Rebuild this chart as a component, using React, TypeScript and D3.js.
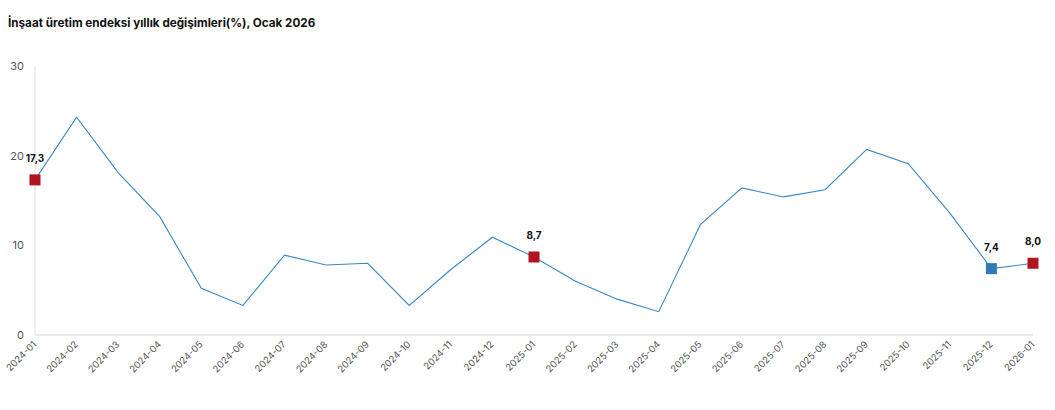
import React from "react";
import * as d3 from "d3";

const months = [
  "2024-01","2024-02","2024-03","2024-04","2024-05","2024-06","2024-07","2024-08","2024-09","2024-10","2024-11","2024-12",
  "2025-01","2025-02","2025-03","2025-04","2025-05","2025-06","2025-07","2025-08","2025-09","2025-10","2025-11","2025-12",
  "2026-01",
];
const values = [
  17.3, 24.3, 18.1, 13.2, 5.2, 3.3, 8.9, 7.8, 8.0, 3.3, 7.3, 10.9,
  8.7, 6.0, 4.0, 2.6, 12.3, 16.4, 15.4, 16.2, 20.7, 19.1, 13.6, 7.4,
  8.0,
];
const yTicks = [0, 10, 20, 30];
const highlighted = [
  { month: "2024-01", color: "#b0151f" },
  { month: "2025-01", color: "#b0151f" },
  { month: "2025-12", color: "#2f7ab9" },
  { month: "2026-01", color: "#b0151f" },
];
const title = "İnşaat üretim endeksi yıllık değişimleri(%), Ocak 2026";

export default function App() {
  const W = 1055, H = 410;
  const x = d3.scalePoint<string>().domain(months).range([35, 1033]);
  const y = d3.scaleLinear().domain([0, 30]).range([335, 66]);
  const line = d3.line<number>()
    .x((_, i) => x(months[i]) as number)
    .y((d) => y(d));
  const fmt = (v: number) => v.toFixed(1).replace(".", ",");
  const font = "Inter, 'Noto Sans', Arial, sans-serif";
  return (
    <svg width={W} height={H} style={{ position: "absolute", left: 0, top: 0, background: "#fff" }} fontFamily={font}>
      <text x={8} y={27} fontSize={11.7} fontWeight={700} fill="#111">{title}</text>
      <line x1={35} x2={35} y1={y(30)} y2={y(0)} stroke="#e0e0e0" strokeWidth={1} />
      <line x1={35} x2={1033} y1={y(0)} y2={y(0)} stroke="#d6d6d6" strokeWidth={1} />
      {yTicks.map((t) => (
        <text key={t} x={24} y={y(t) + 4} fontSize={11} textAnchor="end" fill="#555">{t}</text>
      ))}
      {months.map((m) => (
        <text key={m} transform={`translate(${(x(m) as number) + 2},${y(0) + 10}) rotate(-45)`}
          fontSize={9.5} textAnchor="end" fill="#555">{m}</text>
      ))}
      <path d={line(values) || ""} fill="none" stroke="#3a87c8" strokeWidth={1.1} />
      {highlighted.map((h) => {
        const i = months.indexOf(h.month);
        const cx = x(h.month) as number;
        const cy = y(values[i]);
        return (
          <g key={h.month}>
            <rect x={cx - 5.5} y={cy - 5.5} width={11} height={11} fill={h.color} />
            <text x={cx} y={cy - 18} fontSize={10} fontWeight={700} textAnchor="middle" fill="#111">{fmt(values[i])}</text>
          </g>
        );
      })}
    </svg>
  );
}
